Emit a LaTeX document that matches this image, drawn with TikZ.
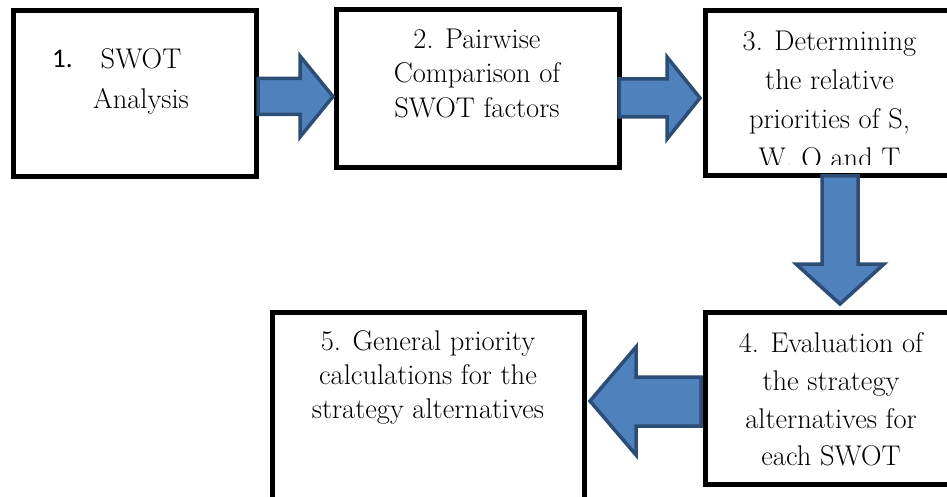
\documentclass[tikz,border=0pt]{standalone}
\usepackage{fontspec}
\newfontfamily\numfont{Carlito}
\usetikzlibrary{positioning}
\definecolor{arrowfill}{HTML}{4F81BD}
\definecolor{arrowline}{HTML}{2C4D75}
\tikzset{
  stepbox/.style={draw=black, line width=5pt, fill=white, inner sep=0pt, outer sep=0pt},
  steptext/.style={font=\rmfamily\fontsize{28.5}{#1}\selectfont, align=center, anchor=north, inner sep=0pt},
  blockarrow/.style={draw=arrowline, fill=arrowfill, line width=3.5pt, line join=miter},
}
\begin{document}
\begin{tikzpicture}[x=1pt, y=-1pt]
  \path[use as bounding box, clip] (0,0) rectangle (947,497);
  \node [stepbox, minimum width=243pt, minimum height=166pt] (b1) at (135,93.5) {};
  \node [stepbox, minimum width=283pt, minimum height=158pt] (b2) at (478,88.5) {};
  \node [stepbox, minimum width=270pt, minimum height=165pt] (b3) at (840.5,93) {};
  \node [stepbox, minimum width=270pt, minimum height=172pt] (b4) at (840.5,398.5) {};
  \node [stepbox, minimum width=312pt, minimum height=210pt] (b5) at (428.5,417.5) {};
  \node [font=\numfont\fontsize{27}{34}\selectfont, anchor=base west, inner sep=0pt] (n1) at (52,68) {1.};
  \node [steptext=40] (t1) at (141,48.5) {SWOT\\Analysis};
  \node [steptext=34.5] (t2) at (477,28.5) {2. Pairwise\\Comparison of\\SWOT factors};
  \begin{scope}
    \clip (700,0) rectangle (947,165);
    \node [steptext=39] (t3) at (829.5,30.5) {3. Determining\\the relative\\priorities of S,\\W. O and T};
  \end{scope}
  \node [steptext=37.7] (t4) at (831,332.5) {4. Evaluation of\\the strategy\\alternatives for\\each SWOT};
  \node [steptext=34] (t5) at (428,330.5) {5. General priority\\calculations for the\\strategy alternatives};
  \draw [blockarrow] (258,78.5) -- (300,78.5) -- (300,56) -- (333,96.5) -- (300,137) -- (300,114.5) -- (258,114.5) -- cycle;
  \draw [blockarrow] (619,79) -- (667,79) -- (667,57) -- (700,98) -- (667,139) -- (667,117) -- (619,117) -- cycle;
  \draw [blockarrow] (822,176) -- (822,264) -- (796,264) -- (840,304) -- (884,264) -- (858,264) -- (858,176) -- cycle;
  \draw [blockarrow] (701,377) -- (636,377) -- (636,347) -- (590,401) -- (636,455) -- (636,426) -- (701,426) -- cycle;
\end{tikzpicture}
\end{document}
